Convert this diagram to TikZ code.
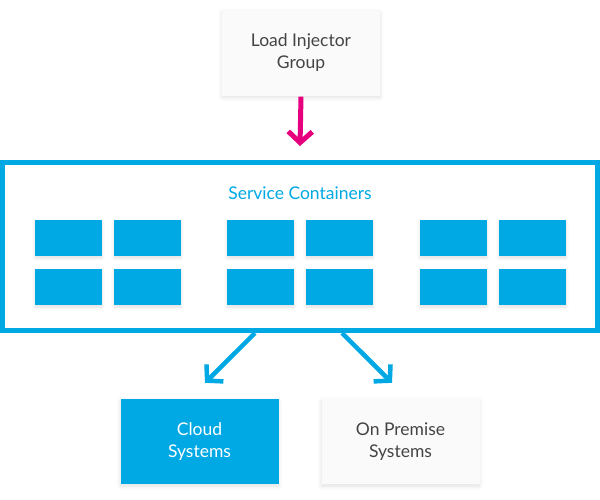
\documentclass[tikz,border=0pt]{standalone}
\usepackage{fontspec}
\setmainfont{Lato}
\usetikzlibrary{arrows.meta, positioning, shadows.blur}

\definecolor{skyblue}{RGB}{0,168,228}
\definecolor{pink}{RGB}{230,0,126}
\definecolor{paper}{RGB}{250,250,250}
\definecolor{ink}{RGB}{68,68,68}

\begin{document}
\begin{tikzpicture}[x=1pt, y=-1pt,
    font=\fontsize{17.5}{22}\selectfont,
    card/.style={fill=paper, text=ink, align=center, minimum width=158pt, minimum height=85pt, inner sep=0pt,
      blur shadow={shadow blur steps=6, shadow opacity=12, shadow xshift=0pt, shadow yshift=-2pt, shadow blur radius=4pt}},
    cloudcard/.style={card, fill=skyblue, text=white},
    slot/.style={fill=skyblue, minimum width=67pt, minimum height=36pt, inner sep=0pt,
      blur shadow={shadow blur steps=5, shadow opacity=12, shadow xshift=0pt, shadow yshift=-2pt, shadow blur radius=3pt}},
    flow/.style={line width=4.5pt, -{Straight Barb[length=11pt, width=24pt]}}]
    \useasboundingbox (0,0) rectangle (600,499);

    \node[card] (load) at (301,53) {Load Injector\\Group};

    % service containers
    \node[draw=skyblue, line width=5pt, minimum width=595pt, minimum height=168pt, inner sep=0pt] (cont) at (300,246.5) {};
    \node[text=skyblue] (title) at (300,193) {Service Containers};
    \foreach \gx [count=\g] in {35, 227, 420} {
      \foreach \cx [count=\c] in {0, 79} {
        \foreach \ry [count=\r] in {238, 287} {
          \node[slot] (s\g\c\r) at (\gx+\cx+33.5, \ry) {};
        }
      }
    }

    \node[cloudcard] (cloud) at (199.5,441.5) {Cloud\\Systems};
    \node[card] (prem) at (400.5,441.5) {On Premise\\Systems};

    \draw[flow, pink, line width=5pt] ([yshift=-1pt]load.south) -- ([yshift=14pt]cont.north);
    \draw[flow, skyblue] ([xshift=-45pt]cont.south) -- ([xshift=5.5pt, yshift=16pt]cloud.north);
    \draw[flow, skyblue] ([xshift=42pt]cont.south) -- ([xshift=-8.5pt, yshift=16pt]prem.north);
  \end{tikzpicture}
\end{document}
